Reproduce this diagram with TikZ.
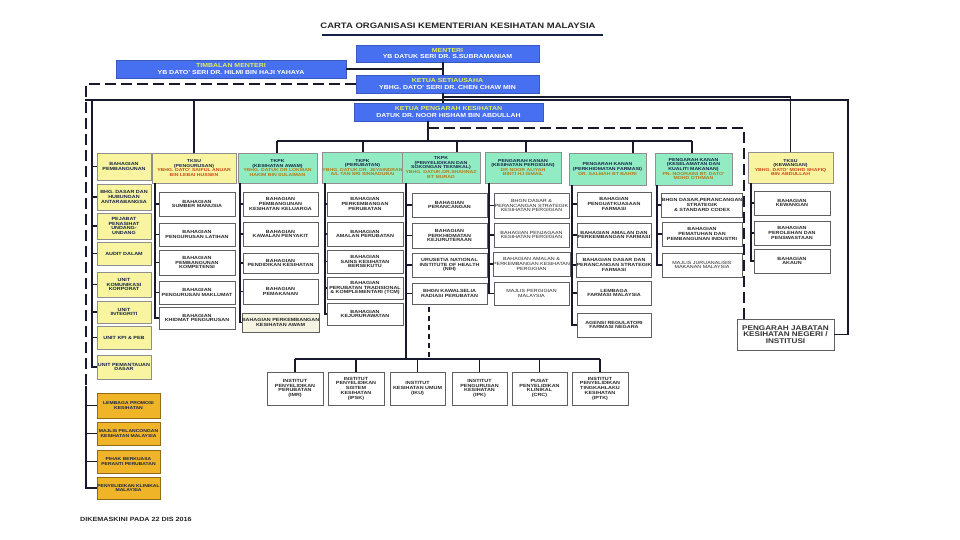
\documentclass[tikz,border=0pt]{standalone}
\usepackage{fontspec}
\setmainfont{Liberation Sans}[FakeStretch=1.2]
\definecolor{blueC}{RGB}{70,112,240}
\definecolor{ylwT}{RGB}{225,240,90}
\definecolor{ylwC}{RGB}{248,244,160}
\definecolor{grnC}{RGB}{145,236,195}
\definecolor{orgC}{RGB}{240,180,40}
\definecolor{lineC}{RGB}{25,25,45}
\definecolor{nameR}{RGB}{205,70,20}
\definecolor{nameO}{RGB}{180,120,20}
\definecolor{creamC}{RGB}{245,243,225}
\definecolor{boxD}{RGB}{95,95,95}
\definecolor{navyT}{RGB}{20,35,70}
\newcommand\obox[7]{%
  \pgfmathsetmacro\obw{#5-#3}%
  \pgfmathsetmacro\obh{#6-#4}%
  \node[#1,minimum width=\obw pt,minimum height=\obh pt] (#2) at ({(#3+#5)/2},{(#4+#6)/2}) {#7};}
\tikzset{
  base/.style={inner xsep=0pt,inner ysep=0pt,align=center,font=\bfseries\fontsize{4.5}{4.7}\selectfont},
  child/.style={base,draw=boxD,fill=white,line width=0.6pt,text=black!85},
  childr/.style={child,font=\mdseries\fontsize{4.5}{4.7}\selectfont},
  cream/.style={child,fill=creamC},
  bluebox/.style={base,fill=blueC,draw=blueC!80!black,line width=0.4pt,text=white,font=\bfseries\fontsize{5.8}{6.1}\selectfont},
  ylwbox/.style={base,fill=ylwC,draw=boxD!70,line width=0.6pt,text=navyT,font=\bfseries\fontsize{4.5}{4.7}\selectfont},
  ylwhead/.style={base,fill=ylwC,draw=boxD!70,line width=0.6pt,text=navyT,font=\bfseries\fontsize{4.3}{4.6}\selectfont},
  grnhead/.style={base,fill=grnC,draw=boxD!70,line width=0.6pt,text=navyT,font=\bfseries\fontsize{4.3}{4.6}\selectfont},
  orgbox/.style={base,fill=orgC,draw=orgC!60!black,line width=0.5pt,text=navyT,font=\bfseries\fontsize{4.2}{4.8}\selectfont},
  pjbox/.style={base,draw=boxD,fill=white,line width=0.7pt,text=black!80,font=\bfseries\fontsize{6.8}{6.8}\selectfont},
  mainline/.style={draw=lineC,line width=1.6pt},
  trunkline/.style={draw=lineC,line width=1.1pt},
  dashline/.style={draw=lineC,line width=1.6pt,dash pattern=on 11pt off 5pt},
  thindash/.style={draw=lineC,line width=1.1pt,dash pattern=on 5pt off 4pt}
}
\begin{document}
\begin{tikzpicture}[x=1pt,y=-1pt]
\useasboundingbox (0,0) rectangle (960,540);
\fill[white] (0,0) rectangle (960,540);

% title
\node[font=\bfseries\fontsize{7.9}{8.5}\selectfont,text=black!85,inner sep=0pt] (title) at (458,26) {CARTA ORGANISASI KEMENTERIAN KESIHATAN MALAYSIA};
\draw[draw=navyT,line width=1.3pt] (322,35) -- (603,35);

% top blue boxes
\obox{bluebox}{menteri}{356}{45}{539}{62}{{\color{ylwT}MENTERI}\\YB DATUK SERI DR. S.SUBRAMANIAM}
\obox{bluebox}{timb}{116}{60}{346}{78}{{\color{ylwT}TIMBALAN MENTERI}\\YB DATO' SERI DR. HILMI BIN HAJI YAHAYA}
\obox{bluebox}{ksu}{356}{75}{539}{93}{{\color{ylwT}KETUA SETIAUSAHA}\\YBHG. DATO' SERI DR. CHEN CHAW MIN}
\obox{bluebox}{kp}{354}{103}{543}{121}{{\color{ylwT}KETUA PENGARAH KESIHATAN}\\DATUK DR. NOOR HISHAM BIN ABDULLAH}

% left yellow column
\obox{ylwbox}{L1}{97}{153}{151}{180}{BAHAGIAN\\PEMBANGUNAN}
\obox{ylwbox}{L2}{97}{184}{151}{210}{BHG. DASAR DAN\\HUBUNGAN\\ANTARABANGSA}
\obox{ylwbox}{L3}{97}{213}{151}{239}{PEJABAT\\PENASIHAT\\UNDANG-\\UNDANG}
\obox{ylwbox}{L4}{97}{242}{151}{265}{AUDIT DALAM}
\obox{ylwbox}{L5}{97}{272}{151}{297}{UNIT\\KOMUNIKASI\\KORPORAT}
\obox{ylwbox}{L6}{97}{301}{151}{323}{UNIT\\INTEGRITI}
\obox{ylwbox}{L7}{97}{326}{151}{349}{UNIT KPI \& PEB}
\obox{ylwbox}{L8}{97}{355}{151}{379}{UNIT PEMANTAUAN\\DASAR}

% orange boxes
\obox{orgbox}{O1}{97}{393}{160}{418}{LEMBAGA PROMOSI\\KESIHATAN}
\obox{orgbox}{O2}{97}{422}{160}{445}{MAJLIS PELANCONGAN\\KESIHATAN MALAYSIA}
\obox{orgbox}{O3}{97}{450}{160}{473}{PIHAK BERKUASA\\PERANTI PERUBATAN}
\obox{orgbox}{O4}{97}{477}{160}{499}{PENYELIDIKAN KLINIKAL\\MALAYSIA}

% TKSU pengurusan
\obox{ylwhead}{hP}{152}{153}{236}{183}{TKSU\\(PENGURUSAN)\\{\color{nameR}YBHG. DATO' SAIFUL ANUAR}\\{\color{nameR}BIN LEBAI HUSSEN}}
\obox{child}{P1}{159}{192}{235}{216}{BAHAGIAN\\SUMBER MANUSIA}
\obox{child}{P2}{159}{223}{235}{246}{BAHAGIAN\\PENGURUSAN LATIHAN}
\obox{child}{P3}{159}{250}{235}{275}{BAHAGIAN\\PEMBANGUNAN\\KOMPETENSI}
\obox{child}{P4}{159}{281}{235}{304}{BAHAGIAN\\PENGURUSAN MAKLUMAT}
\obox{child}{P5}{159}{307}{235}{329}{BAHAGIAN\\KHIDMAT PENGURUSAN}

% TKPK kesihatan awam
\obox{grnhead}{hA}{238}{153}{317}{183}{TKPK\\(KESIHATAN AWAM)\\{\color{nameO}YBHG. DATUK DR LOKMAN}\\{\color{nameO}HAKIM BIN SULAIMAN}}
\obox{child}{A1}{243}{192}{318}{216}{BAHAGIAN\\PEMBANGUNAN\\KESIHATAN KELUARGA}
\obox{child}{A2}{243}{222}{318}{246}{BAHAGIAN\\KAWALAN PENYAKIT}
\obox{child}{A3}{243}{253}{318}{273}{BAHAGIAN\\PENDIDIKAN KESIHATAN}
\obox{child}{A4}{243}{279}{318}{304}{BAHAGIAN\\PEMAKANAN}
\obox{cream}{A5}{243}{313}{318}{332}{BAHAGIAN PERKEMBANGAN\\KESIHATAN AWAM}

% TKPK perubatan
\obox{grnhead}{hB}{323}{152}{402}{183}{TKPK\\(PERUBATAN)\\{\color{nameO}YBHG. DATUK DR. JEYAINDRAN}\\{\color{nameO}A/L TAN SRI SINNADURAI}}
\obox{child}{B1}{327}{192}{403}{216}{BAHAGIAN\\PERKEMBANGAN\\PERUBATAN}
\obox{child}{B2}{327}{222}{403}{246}{BAHAGIAN\\AMALAN PERUBATAN}
\obox{child}{B3}{327}{250}{403}{273}{BAHAGIAN\\SAINS KESIHATAN\\BERSEKUTU}
\obox{child}{B4}{327}{277}{403}{299}{BAHAGIAN\\PERUBATAN TRADISIONAL\\\& KOMPLEMENTARI (TCM)}
\obox{child}{B5}{327}{303}{403}{325}{BAHAGIAN\\KEJURURAWATAN}

% TKPK penyelidikan
\obox{grnhead}{hC}{402}{152}{480}{183}{TKPK\\(PENYELIDIKAN DAN\\SOKONGAN TEKNIKAL)\\{\color{nameO}YBHG. DATUK.DR.SHAHNAZ}\\{\color{nameO}BT MURAD}}
\obox{child}{C1}{412}{193}{487}{217}{BAHAGIAN\\PERANCANGAN}
\obox{child}{C2}{412}{223}{487}{248}{BAHAGIAN\\PERKHIDMATAN\\KEJURUTERAAN}
\obox{child}{C3}{412}{253}{487}{277}{URUSETIA NATIONAL\\INSTITUTE OF HEALTH\\(NIH)}
\obox{child}{C4}{412}{283}{487}{304}{BHGN KAWALSELIA\\RADIASI PERUBATAN}

% pergigian
\obox{grnhead}{hD}{485}{152}{561}{183}{PENGARAH KANAN\\(KESIHATAN PERGIGIAN)\\{\color{nameO}DR NOOR ALIYAH}\\{\color{nameO}BINTI HJ ISMAIL}}
\obox{childr}{D1}{494}{193}{569}{218}{BHGN DASAR \&\\PERANCANGAN STRATEGIK\\KESIHATAN PERGIGIAN}
\obox{childr}{D2}{494}{223}{569}{247}{BAHAGIAN PENJAGAAN\\KESIHATAN PERGIGIAN}
\obox{childr}{D3}{494}{252}{569}{276}{BAHAGIAN AMALAN \&\\PERKEMBANGAN KESIHATAN\\PERGIGIAN}
\obox{childr}{D4}{494}{282}{569}{305}{MAJLIS PERGIGIAN\\MALAYSIA}

% farmasi
\obox{grnhead}{hF}{569}{153}{646}{185}{PENGARAH KANAN\\(PERKHIDMATAN FARMASI)\\{\color{nameO}DR. SALMAH BT  BAHRI}}
\obox{child}{F1}{577}{192}{651}{216}{BAHAGIAN\\PENGUATKUASAAN\\FARMASI}
\obox{child}{F2}{577}{223}{651}{247}{BAHAGIAN AMALAN DAN\\PERKEMBANGAN FARMASI}
\obox{child}{F3}{577}{253}{651}{277}{BAHAGIAN DASAR DAN\\PERANCANGAN STRATEGIK\\FARMASI}
\obox{child}{F4}{577}{281}{651}{305}{LEMBAGA\\FARMASI MALAYSIA}
\obox{child}{F5}{577}{313}{651}{337}{AGENSI REGULATORI\\FARMASI NEGARA}

% makanan
\obox{grnhead}{hM}{655}{153}{732}{185}{PENGARAH KANAN\\(KESELAMATAN DAN\\KUALITI MAKANAN)\\{\color{nameO}PN. NOORAINI BT. DATO'}\\{\color{nameO}MOHD OTHMAN}}
\obox{child}{M1}{662}{193}{742}{217}{BHGN DASAR,PERANCANGAN\\STRATEGIK\\\& STANDARD CODEX}
\obox{child}{M2}{662}{222}{742}{246}{BAHAGIAN\\PEMATUHAN DAN\\PEMBANGUNAN INDUSTRI}
\obox{childr}{M3}{662}{253}{742}{277}{MAJLIS JURUANALISIS\\MAKANAN MALAYSIA}

% TKSU kewangan
\obox{ylwhead}{hK}{748}{152}{833}{183}{TKSU\\(KEWANGAN)\\{\color{nameR}YBHG. DATO' MOHD SHAFIQ}\\{\color{nameR}BIN ABDULLAH}}
\obox{child}{K1}{754}{191}{830}{215}{BAHAGIAN\\KEWANGAN}
\obox{child}{K2}{754}{221}{830}{245}{BAHAGIAN\\PEROLEHAN DAN\\PENSWASTAAN}
\obox{child}{K3}{754}{249}{830}{273}{BAHAGIAN\\AKAUN}

% pengarah jabatan
\obox{pjbox}{pj}{737}{319}{834}{350}{PENGARAH JABATAN\\KESIHATAN NEGERI /\\INSTITUSI}

% institutes
\obox{child}{I1}{267}{372}{323}{405}{INSTITUT\\PENYELIDIKAN\\PERUBATAN\\(IMR)}
\obox{child}{I2}{328}{372}{384}{405}{INSTITUT\\PENYELIDIKAN\\SISTEM\\KESIHATAN\\(IPSK)}
\obox{child}{I3}{390}{372}{445}{405}{INSTITUT\\KESIHATAN UMUM\\(IKU)}
\obox{child}{I4}{452}{372}{507}{405}{INSTITUT\\PENGURUSAN\\KESIHATAN\\(IPK)}
\obox{child}{I5}{512}{372}{567}{405}{PUSAT\\PENYELIDIKAN\\KLINIKAL\\(CRC)}
\obox{child}{I6}{572}{372}{628}{405}{INSTITUT\\PENYELIDIKAN\\TINGKAHLAKU\\KESIHATAN\\(IPTK)}

% footer
\node[anchor=west,inner sep=0pt,font=\bfseries\fontsize{6}{7}\selectfont,text=black!85] (foot) at (80,519) {DIKEMASKINI PADA 22 DIS 2016};

% ---------- connectors ----------
\coordinate (kx) at (443,0);
\draw[mainline] (menteri.south -| kx) -- (ksu.north -| kx);
\draw[mainline] (timb.east) -- (timb.east -| kx);
\draw[mainline] (ksu.south -| kx) -- (kp.north -| kx);

% solid line at y=100 and right side to PJ
\coordinate (s0) at (85,100);
\coordinate (s1) at (848,100);
\draw[mainline] (s0) -- (s1) |- (pj.east);
% left yellow trunk
\coordinate (tL) at (92,100);
\foreach \n in {L1,L2,L3,L4,L5,L6,L7,L8} \draw[trunkline] (tL) |- (\n.west);
% TKSU pengurusan
\draw[mainline] (hP.north |- s0) -- (hP.north);
% line at y=97 to TKSU kewangan
\coordinate (k97) at (443,97);
\draw[mainline] (k97) -- (hK.north |- k97) -- (hK.north);

% dashed left from KSU
\coordinate (tO) at (86,386);
\draw[dashline] (ksu.west) -| (tO);
\foreach \n in {O1,O2,O3,O4} \draw[trunkline] (tO) |- (\n.west);

% KP to bus
\coordinate (kpx) at (428,121);
\coordinate (bus) at (428,141);
\draw[mainline] (kpx) -- (bus);
\coordinate (bA) at (277,141);
\coordinate (bM) at (692,141);
\draw[mainline] (bA) -- (bM);
\draw[mainline] (bA) -- (hA.north -| bA);
\draw[mainline] (363,141) -- (hB.north -| 363,0);
\draw[mainline] (457,141) -- (hC.north -| 457,0);
\draw[mainline] (526,141) -- (hD.north -| 526,0);
\draw[mainline] (633,141) -- (hF.north -| 633,0);
\draw[mainline] (bM) -- (hM.north -| bM);

% dashed KP to PJ
\coordinate (d0) at (428,128);
\coordinate (d1) at (744,128);
\draw[dashline] (d0) -- (d1) -- (pj.north -| d1);

% column trunks
\coordinate (tP) at (155,183);
\foreach \n in {P1,P2,P3,P4,P5} \draw[trunkline] (tP) |- (\n.west);
\coordinate (tA) at (240,183);
\foreach \n in {A1,A2,A3,A4,A5} \draw[trunkline] (tA) |- (\n.west);
\coordinate (tB) at (325,183);
\foreach \n in {B1,B2,B3,B4,B5} \draw[trunkline] (tB) |- (\n.west);
\coordinate (tC) at (406,183);
\foreach \n in {C1,C2,C3,C4} \draw[trunkline] (tC) |- (\n.west);
\coordinate (tD) at (489,183);
\foreach \n in {D1,D2,D3,D4} \draw[trunkline] (tD) |- (\n.west);
\coordinate (tF) at (572,185);
\foreach \n in {F1,F2,F3,F4,F5} \draw[trunkline] (tF) |- (\n.west);
\coordinate (tM) at (657,185);
\foreach \n in {M1,M2,M3} \draw[trunkline] (tM) |- (\n.west);
\coordinate (tK) at (751,183);
\foreach \n in {K1,K2,K3} \draw[trunkline] (tK) |- (\n.west);

% institutes
\coordinate (ib) at (406,359);
\draw[trunkline] (tC) -- (ib);
\draw[trunkline] (I1.north |- ib) -- (I6.north |- ib);
\foreach \n in {I1,I2,I3,I4,I5,I6} \draw[trunkline] (\n.north |- ib) -- (\n.north);
\coordinate (q0) at (429,307);
\draw[thindash] (q0) -- (q0 |- ib);
\end{tikzpicture}
\end{document}
